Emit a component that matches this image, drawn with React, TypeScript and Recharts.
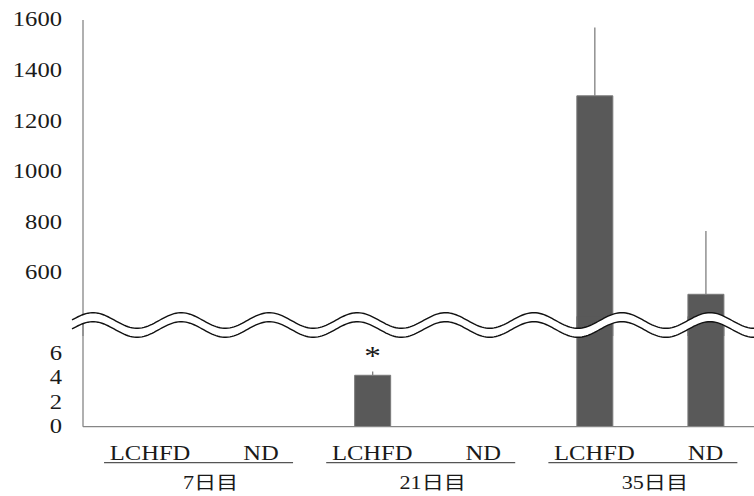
import React from "react";
import { BarChart, Bar, XAxis, YAxis, ErrorBar, LabelList } from "recharts";

// groups on the x axis, two diets per day
const CATEGORIES = ["LCHFD", "ND", "LCHFD", "ND", "LCHFD", "ND"];
const GROUPS = ["7日目", "21日目", "35日目"];

// mean and SD per bar, "*" marks a significant difference
const MEANS = [0, 0, 4.2, 0, 1300, 515];
const SDS = [0, 0, 0.3, 0, 270, 250];
const MARKS = ["", "", "*", "", "", ""];

// the y axis is broken in two parts
const UPPER_TICKS = [600, 800, 1000, 1200, 1400, 1600];
const LOWER_TICKS = [0, 2, 4, 6];
const UPPER_DOMAIN: [number, number] = [350, 1600];
const LOWER_DOMAIN: [number, number] = [0, 9];

const FONT = "Liberation Serif, DejaVu Serif, Noto Sans CJK JP, serif";
const SX = 1.23; // the text is a bit wide in this figure
const TEXT = "#1a1a1a";
const AXIS = "#868686";
const BAR = "#595959";
const CHART_W = 761;
const BAND = 111;

const upperRows = CATEGORIES.map((name, i) => ({
  name,
  value: MEANS[i] > UPPER_DOMAIN[0] ? MEANS[i] : null,
  err: MEANS[i] > UPPER_DOMAIN[0] ? [0, SDS[i]] : undefined,
}));

const lowerRows = CATEGORIES.map((name, i) => ({
  name,
  value: MEANS[i],
  err: MEANS[i] < LOWER_DOMAIN[1] ? [0, SDS[i]] : undefined,
  mark: MARKS[i],
}));

function Wide({ x, y, anchor = "middle", size = 20, children }: any) {
  return (
    <text
      x={x}
      y={y}
      textAnchor={anchor}
      fill={TEXT}
      style={{ fontFamily: FONT, fontSize: size }}
      transform={`matrix(${SX} 0 0 1 ${x * (1 - SX)} 0)`}
    >
      {children}
    </text>
  );
}

function YTick({ x, y, payload }: any) {
  return (
    <Wide x={x} y={y + 6.5} anchor="end">
      {payload.value}
    </Wide>
  );
}

function XTick({ x, y, payload, index }: any) {
  const i = index ?? payload.index;
  const first = i % 2 === 0;
  const mid = x + BAND / 2;
  return (
    <g>
      <Wide x={x} y={y + 33.5}>
        {payload.value}
      </Wide>
      {first && (
        <>
          <line
            x1={mid - 7 - 94.5}
            x2={mid - 7 + 94.5}
            y1={y + 36}
            y2={y + 36}
            stroke="#555"
            strokeWidth={1.2}
          />
          <Wide x={mid + 5} y={y + 62.5} size={18}>
            {GROUPS[Math.floor(i / 2)]}
          </Wide>
        </>
      )}
    </g>
  );
}

function Star({ x, y, width, value }: any) {
  if (!value) return null;
  return (
    <Wide x={x + width / 2} y={y - 10} size={27}>
      {value}
    </Wide>
  );
}

// two wavy lines with white between them, drawn over the axis break
function BreakMark() {
  const pts: [number, number][] = [];
  for (let x = 72; x <= 756; x += 2) {
    pts.push([x, 320.5 - 7.8 * Math.cos((2 * Math.PI * (x - 93)) / 88.14)]);
  }
  const top = pts.map(([x, y], k) => `${k ? "L" : "M"}${x},${y}`).join(" ");
  const bottom = pts.map(([x, y], k) => `${k ? "L" : "M"}${x},${y + 9}`).join(" ");
  const band =
    top +
    " " +
    pts
      .slice()
      .reverse()
      .map(([x, y]) => `L${x},${y + 9}`)
      .join(" ") +
    " Z";
  return (
    <svg
      width={754}
      height={496}
      style={{ position: "absolute", left: 0, top: 0, pointerEvents: "none" }}
    >
      <path d={band} fill="#fff" stroke="none" />
      <path d={top} fill="none" stroke="#111" strokeWidth={1.4} />
      <path d={bottom} fill="none" stroke="#111" strokeWidth={1.4} />
    </svg>
  );
}

export default function App() {
  return (
    <div
      style={{
        position: "absolute",
        left: 0,
        top: 0,
        width: 754,
        height: 496,
        overflow: "hidden",
        background: "#fff",
      }}
    >
      <div style={{ position: "absolute", left: 0, top: 0 }}>
        <BarChart
          width={CHART_W}
          height={336}
          data={upperRows}
          margin={{ top: 20, right: 0, bottom: 0, left: 0 }}
          barSize={36}
        >
          <XAxis dataKey="name" hide padding={{ left: 11.5, right: 0 }} />
          <YAxis
            width={83}
            domain={UPPER_DOMAIN}
            ticks={UPPER_TICKS}
            allowDataOverflow
            tickLine={false}
            tickSize={0}
            tickMargin={21}
            axisLine={{ stroke: AXIS, strokeWidth: 1.3 }}
            tick={(p: any) => <YTick {...p} />}
          />
          <Bar dataKey="value" fill={BAR} stroke="#7a7a7a" strokeWidth={1} isAnimationActive={false}>
            <ErrorBar dataKey="err" width={0} stroke="#7f7f7f" strokeWidth={1.3} />
          </Bar>
        </BarChart>
      </div>
      <div style={{ position: "absolute", left: 0, top: 300 }}>
        <BarChart
          width={CHART_W}
          height={196}
          data={lowerRows}
          margin={{ top: 16.5, right: 0, bottom: 0, left: 0 }}
          barSize={36}
        >
          <XAxis
            dataKey="name"
            height={69.3}
            padding={{ left: 11.5, right: 0 }}
            tickLine={false}
            tickSize={0}
            tickMargin={0}
            axisLine={{ stroke: AXIS, strokeWidth: 1.3 }}
            interval={0}
            tick={(p: any) => <XTick {...p} />}
          />
          <YAxis
            width={83}
            domain={LOWER_DOMAIN}
            ticks={LOWER_TICKS}
            allowDataOverflow
            tickLine={false}
            tickSize={0}
            tickMargin={21}
            axisLine={{ stroke: AXIS, strokeWidth: 1.3 }}
            tick={(p: any) => <YTick {...p} />}
          />
          <Bar dataKey="value" fill={BAR} stroke="#7a7a7a" strokeWidth={1} isAnimationActive={false}>
            <ErrorBar dataKey="err" width={0} stroke="#7f7f7f" strokeWidth={1.3} />
            <LabelList dataKey="mark" content={(p: any) => <Star {...p} />} />
          </Bar>
        </BarChart>
      </div>
      <BreakMark />
    </div>
  );
}
